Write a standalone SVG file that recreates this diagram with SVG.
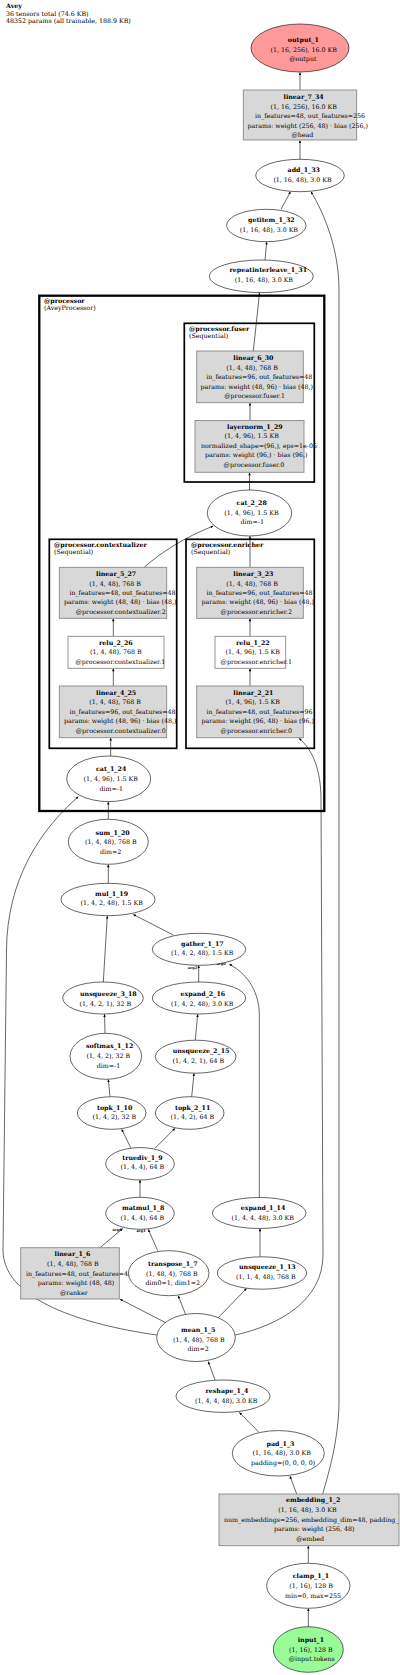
<svg xmlns="http://www.w3.org/2000/svg" width="400" height="1675" viewBox="0 0 400 1675">
<defs>
<marker id="ah" viewBox="0 0 10 10" refX="10" refY="5" markerWidth="3.2" markerHeight="2.6" markerUnits="userSpaceOnUse" orient="auto"><path d="M0,0 L10,5 L0,10 z" fill="#000"/></marker>
<style>
text { font-family: "DejaVu Serif", serif; font-size: 6.3px; fill: #000; }
.b { font-weight: bold; }
.n { fill: #fff; stroke: #000; stroke-width: 0.6; }
.box { fill: #d8d8d8; stroke: #888; stroke-width: 0.9; }
.wbox { fill: #fff; stroke: #888; stroke-width: 0.9; }
.cl { fill: none; stroke: #000; stroke-width: 1.7; }
.clo { fill: none; stroke: #000; stroke-width: 2.3; }
.e { fill: none; stroke: #000; stroke-width: 0.6; marker-end: url(#ah); }
.lbl { font-size: 3.6px; font-weight: bold; }
</style>
</defs>
<rect width="400" height="1675" fill="#fff"/>
<g id="title">
<text class="b" x="6" y="8.3">Avey</text>
<text x="6" y="15.6">36 tensors total (74.6 KB)</text>
<text x="6" y="23">48352 params (all trainable, 188.9 KB)</text>
</g>
<g id="clusters">
<g id="cluster_processor"><rect class="clo" x="39.3" y="295.7" width="285" height="515.3"/><text class="b" x="44" y="303">@processor</text><text x="44" y="310">(AveyProcessor)</text></g>
<g id="cluster_fuser"><rect class="cl" x="184.3" y="323.3" width="130" height="158.7"/><text class="b" x="189" y="331">@processor.fuser</text><text x="189" y="337.6">(Sequential)</text></g>
<g id="cluster_contextualizer"><rect class="cl" x="49.3" y="539.3" width="127.4" height="209"/><text class="b" x="54" y="547">@processor.contextualizer</text><text x="54" y="553.6">(Sequential)</text></g>
<g id="cluster_enricher"><rect class="cl" x="186" y="539.3" width="128.3" height="209"/><text class="b" x="191" y="547">@processor.enricher</text><text x="191" y="553.6">(Sequential)</text></g>
</g>
<g id="edges">
<path class="e" d="M300,90 L300,72.5"/>
<path class="e" d="M300,159.3 L300,140.5"/>
<path class="e" d="M281,209.3 L290.5,191.7"/>
<path class="e" d="M265,260 L266.7,241.9"/>
<path class="e" d="M253.3,351 L259.5,292.8"/>
<path class="e" d="M250,420.5 L250,403"/>
<path class="e" d="M249.5,490 L249.5,472.6"/>
<path class="e" d="M250,567.3 L250,536.2"/>
<path class="e" d="M144.3,567.3 C160,553 185,537 213.3,526"/>
<path class="e" d="M113.3,636.3 L113.3,618.6"/>
<path class="e" d="M113.3,686 L113.3,668.6"/>
<path class="e" d="M250,636.3 L250,618.6"/>
<path class="e" d="M250,686 L250,668.6"/>
<path class="e" d="M110.7,756 L110.7,738"/>
<path class="e" d="M108.3,819.3 L108.3,801.8"/>
<path class="e" d="M156.7,1335 C100,1327 3,1305 3,1250 L6.5,950 C7,880 40,830 78.3,796.7"/>
<path class="e" d="M108.3,883.3 L108.3,864.6"/>
<path class="e" d="M173.3,935 L133.3,914.5"/>
<path class="e" d="M103.3,982 L107.3,916"/>
<path class="e" d="M198.7,982 L198.7,965.5"/>
<path class="e" d="M259.3,1197.7 L259.3,1015 C259.3,995 250,975 229.3,964.3"/>
<path class="e" d="M105,1033.3 L104.5,1014.3"/>
<path class="e" d="M195.3,1040 L197.7,1014.3"/>
<path class="e" d="M110,1096.7 L108.3,1079.5"/>
<path class="e" d="M191.7,1096.7 L194,1073.3"/>
<path class="e" d="M130.7,1147.7 L121.7,1129.3"/>
<path class="e" d="M155,1148.3 L175,1128.3"/>
<path class="e" d="M140,1197.3 L140,1180.1"/>
<path class="e" d="M100,1247.7 L122.7,1228.5"/>
<path class="e" d="M157.7,1250.7 L148.3,1229.4"/>
<path class="e" d="M260,1256.7 L260,1228.6"/>
<path class="e" d="M165.7,1322.7 L120,1299.2"/>
<path class="e" d="M186.7,1317.3 L178.3,1295.8"/>
<path class="e" d="M216,1320 L246.7,1288.3"/>
<path class="e" d="M235.3,1335 C280,1325 323,1300 323,1255 L321,800 C321,770 313,750 299,738.3"/>
<path class="e" d="M215,1380 L208.3,1361.6"/>
<path class="e" d="M259,1432.3 L239.3,1412.4"/>
<path class="e" d="M296.7,1494 L290,1476.2"/>
<path class="e" d="M322.7,1494 C328,1475 339,1440 339,1400 L339,290 C339,250 325,215 311,191.7"/>
<path class="e" d="M308.3,1563.3 L308.3,1546"/>
<path class="e" d="M308.3,1626.7 L308.3,1608.5"/>
<text class="lbl" x="188" y="968.5">arg2</text>
<text class="lbl" x="216.5" y="965">arg0</text>
<text class="lbl" x="112.5" y="1231">arg0</text>
<text class="lbl" x="136.5" y="1232">arg1</text>
</g>
<g id="output_1"><ellipse cx="300" cy="48" rx="49" ry="24" fill="#ff9999" stroke="#000" stroke-width="0.6"/><text class="b" x="287.8" y="41.6">output_1</text><text x="270.6" y="51.6">(1, 16, 256), 16.0 KB</text><text x="289.2" y="61">@output</text></g>
<g id="linear_7_34"><rect class="box" x="243.3" y="90" width="113.4" height="50"/><text class="b" x="283.5" y="99">linear_7_34</text><text x="270.6" y="108.5">(1, 16, 256), 16.0 KB</text><text x="255" y="118">in_features=48, out_features=256</text><text x="247.5" y="127.5">params: weight (256, 48) · bias (256,)</text><text x="291.5" y="137">@head</text></g>
<g id="add_1_33"><ellipse class="n" cx="300" cy="175.5" rx="44.3" ry="16.2"/><text class="b" x="287.6" y="172">add_1_33</text><text x="273.4" y="182">(1, 16, 48), 3.0 KB</text></g>
<g id="getitem_1_32"><ellipse class="n" cx="266.3" cy="225.5" rx="39.7" ry="16.2"/><text class="b" x="248" y="222.3">getitem_1_32</text><text x="239.7" y="232.3">(1, 16, 48), 3.0 KB</text></g>
<g id="repeatinterleave_1_31"><ellipse class="n" cx="261.3" cy="276.3" rx="52" ry="16.3"/><text class="b" x="229.5" y="272.3">repeatinterleave_1_31</text><text x="234.7" y="282">(1, 16, 48), 3.0 KB</text></g>
<g id="linear_6_30"><rect class="box" x="196.7" y="351" width="106.6" height="51.7"/><text class="b" x="233.3" y="360">linear_6_30</text><text x="226.2" y="369.6">(1, 4, 48), 768 B</text><text x="206.3" y="379.3">in_features=96, out_features=48</text><text x="200.5" y="388.6">params: weight (48, 96) · bias (48,)</text><text x="224.3" y="398.3">@processor.fuser.1</text></g>
<g id="layernorm_1_29"><rect class="box" x="195" y="420.5" width="109" height="51.8"/><text class="b" x="227" y="429">layernorm_1_29</text><text x="224.6" y="438.3">(1, 4, 96), 1.5 KB</text><text x="201" y="448">normalized_shape=(96,), eps=1e-05</text><text x="205" y="457.3">params: weight (96,) · bias (96,)</text><text x="223.6" y="467">@processor.fuser.0</text></g>
<g id="cat_2_28"><ellipse class="n" cx="249.5" cy="513" rx="42.2" ry="23"/><text class="b" x="236.6" y="505">cat_2_28</text><text x="224.3" y="514.6">(1, 4, 96), 1.5 KB</text><text x="240.5" y="524">dim=-1</text></g>
<g id="linear_5_27"><rect class="box" x="59.3" y="567.3" width="107.4" height="51"/><text class="b" x="96" y="575.6">linear_5_27</text><text x="89.2" y="585.6">(1, 4, 48), 768 B</text><text x="69.4" y="595">in_features=48, out_features=48</text><text x="64" y="604.3">params: weight (48, 48) · bias (48,)</text><text x="75.8" y="614">@processor.contextualizer.2</text></g>
<g id="relu_2_26"><rect class="wbox" x="68" y="636.3" width="96" height="32"/><text class="b" x="99" y="644.6">relu_2_26</text><text x="90" y="654.3">(1, 4, 48), 768 B</text><text x="75.5" y="664">@processor.contextualizer.1</text></g>
<g id="linear_4_25"><rect class="box" x="59.3" y="686" width="107.4" height="51.7"/><text class="b" x="96" y="694.6">linear_4_25</text><text x="89.2" y="704.3">(1, 4, 48), 768 B</text><text x="69.4" y="714">in_features=96, out_features=48</text><text x="64" y="723.3">params: weight (48, 96) · bias (48,)</text><text x="75.8" y="733">@processor.contextualizer.0</text></g>
<g id="linear_3_23"><rect class="box" x="196.7" y="567.3" width="106.6" height="51"/><text class="b" x="233.3" y="575.6">linear_3_23</text><text x="226.2" y="585.6">(1, 4, 48), 768 B</text><text x="206.5" y="595">in_features=96, out_features=48</text><text x="201.5" y="604.3">params: weight (48, 96) · bias (48,)</text><text x="220.6" y="614">@processor.enricher.2</text></g>
<g id="relu_1_22"><rect class="wbox" x="215" y="636.3" width="70.7" height="32"/><text class="b" x="236" y="644.6">relu_1_22</text><text x="225.5" y="654.3">(1, 4, 96), 1.5 KB</text><text x="220.6" y="664">@processor.enricher.1</text></g>
<g id="linear_2_21"><rect class="box" x="196.7" y="686" width="106.6" height="51.7"/><text class="b" x="233.3" y="694.6">linear_2_21</text><text x="225.5" y="704.3">(1, 4, 96), 1.5 KB</text><text x="206.5" y="714">in_features=48, out_features=96</text><text x="201.5" y="723.3">params: weight (96, 48) · bias (96,)</text><text x="220.6" y="733">@processor.enricher.0</text></g>
<g id="cat_1_24"><ellipse class="n" cx="108.7" cy="778.8" rx="42" ry="22.8"/><text class="b" x="96" y="771.3">cat_1_24</text><text x="83.5" y="781">(1, 4, 96), 1.5 KB</text><text x="99.5" y="790.6">dim=-1</text></g>
<g id="sum_1_20"><ellipse class="n" cx="108.3" cy="841.8" rx="40" ry="22.5"/><text class="b" x="95.5" y="834.6">sum_1_20</text><text x="85" y="844.3">(1, 4, 48), 768 B</text><text x="100" y="853.6">dim=2</text></g>
<g id="mul_1_19"><ellipse class="n" cx="108" cy="899.5" rx="47" ry="16.2"/><text class="b" x="95" y="895.6">mul_1_19</text><text x="80.5" y="905.3">(1, 4, 2, 48), 1.5 KB</text></g>
<g id="gather_1_17"><ellipse class="n" cx="199" cy="949.3" rx="46.7" ry="16"/><text class="b" x="181" y="945.6">gather_1_17</text><text x="171" y="955.3">(1, 4, 2, 48), 1.5 KB</text></g>
<g id="unsqueeze_3_18"><ellipse class="n" cx="103" cy="998" rx="40.3" ry="16"/><text class="b" x="80" y="996.3">unsqueeze_3_18</text><text x="79.5" y="1006">(1, 4, 2, 1), 32 B</text></g>
<g id="expand_2_16"><ellipse class="n" cx="199" cy="998" rx="46.7" ry="16"/><text class="b" x="180.5" y="996.3">expand_2_16</text><text x="171" y="1006">(1, 4, 2, 48), 3.0 KB</text></g>
<g id="softmax_1_12"><ellipse class="n" cx="105.8" cy="1056.3" rx="35.8" ry="23"/><text class="b" x="86" y="1048.3">softmax_1_12</text><text x="86.5" y="1058.3">(1, 4, 2), 32 B</text><text x="96.8" y="1067.6">dim=-1</text></g>
<g id="unsqueeze_2_15"><ellipse class="n" cx="195.7" cy="1056.7" rx="40.3" ry="16.5"/><text class="b" x="172.7" y="1053">unsqueeze_2_15</text><text x="172.5" y="1062.6">(1, 4, 2, 1), 64 B</text></g>
<g id="topk_1_10"><ellipse class="n" cx="111.7" cy="1113" rx="34.3" ry="16.3"/><text class="b" x="97" y="1109.6">topk_1_10</text><text x="92.5" y="1119.3">(1, 4, 2), 32 B</text></g>
<g id="topk_2_11"><ellipse class="n" cx="189.7" cy="1113" rx="34.3" ry="16.3"/><text class="b" x="175" y="1109.6">topk_2_11</text><text x="170.5" y="1119.3">(1, 4, 2), 64 B</text></g>
<g id="truediv_1_9"><ellipse class="n" cx="140" cy="1163.8" rx="34.3" ry="16.2"/><text class="b" x="122.3" y="1159.6">truediv_1_9</text><text x="120.5" y="1169.3">(1, 4, 4), 64 B</text></g>
<g id="matmul_1_8"><ellipse class="n" cx="140" cy="1213.3" rx="34.3" ry="16"/><text class="b" x="122" y="1210.3">matmul_1_8</text><text x="120.5" y="1220">(1, 4, 4), 64 B</text></g>
<g id="expand_1_14"><ellipse class="n" cx="259.2" cy="1213" rx="46.8" ry="15.5"/><text class="b" x="240.7" y="1210.3">expand_1_14</text><text x="231.5" y="1220">(1, 4, 4, 48), 3.0 KB</text></g>
<g id="linear_1_6"><rect class="box" x="20.7" y="1247.7" width="98.6" height="51.3"/><text class="b" x="54.5" y="1255.6">linear_1_6</text><text x="47" y="1266.3">(1, 4, 48), 768 B</text><text x="26" y="1275.6">in_features=48, out_features=48</text><text x="37.7" y="1285">params: weight (48, 48)</text><text x="60" y="1294.6">@ranker</text></g>
<g id="transpose_1_7"><ellipse class="n" cx="168.7" cy="1273.2" rx="40.3" ry="22.5"/><text class="b" x="148" y="1266.3">transpose_1_7</text><text x="146" y="1275.6">(1, 48, 4), 768 B</text><text x="145.5" y="1285">dim0=1, dim1=2</text></g>
<g id="unsqueeze_1_13"><ellipse class="n" cx="262" cy="1273" rx="44.7" ry="16.2"/><text class="b" x="239" y="1269">unsqueeze_1_13</text><text x="236" y="1279">(1, 1, 4, 48), 768 B</text></g>
<g id="mean_1_5"><ellipse class="n" cx="196" cy="1337.5" rx="39.3" ry="24"/><text class="b" x="181" y="1332.3">mean_1_5</text><text x="173" y="1342">(1, 4, 48), 768 B</text><text x="187.5" y="1351.3">dim=2</text></g>
<g id="reshape_1_4"><ellipse class="n" cx="223" cy="1396.2" rx="47" ry="16.2"/><text class="b" x="205.5" y="1393.3">reshape_1_4</text><text x="195" y="1403">(1, 4, 4, 48), 3.0 KB</text></g>
<g id="pad_1_3"><ellipse class="n" cx="278.3" cy="1453.3" rx="46" ry="22.7"/><text class="b" x="266.5" y="1445.6">pad_1_3</text><text x="252.5" y="1455.3">(1, 16, 48), 3.0 KB</text><text x="251" y="1464.6">padding=(0, 0, 0, 0)</text></g>
<g id="embedding_1_2"><rect class="box" x="219" y="1494" width="180" height="51.7"/><text class="b" x="286" y="1502.3">embedding_1_2</text><text x="278.3" y="1512.3">(1, 16, 48), 3.0 KB</text><text x="224" y="1521.6">num_embeddings=256, embedding_dim=48, padding_</text><text x="274" y="1531">params: weight (256, 48)</text><text x="296.3" y="1540.6">@embed</text></g>
<g id="clamp_1_1"><ellipse class="n" cx="308.3" cy="1585.8" rx="41.7" ry="22.5"/><text class="b" x="292.7" y="1578.3">clamp_1_1</text><text x="289.3" y="1588">(1, 16), 128 B</text><text x="285" y="1597.6">min=0, max=255</text></g>
<g id="input_1"><ellipse cx="308.3" cy="1649.5" rx="35" ry="22.8" fill="#98fb98" stroke="#000" stroke-width="0.6"/><text class="b" x="297.7" y="1641.6">input_1</text><text x="289" y="1651.6">(1, 16), 128 B</text><text x="288.7" y="1661">@input.tokens</text></g>
</svg>
